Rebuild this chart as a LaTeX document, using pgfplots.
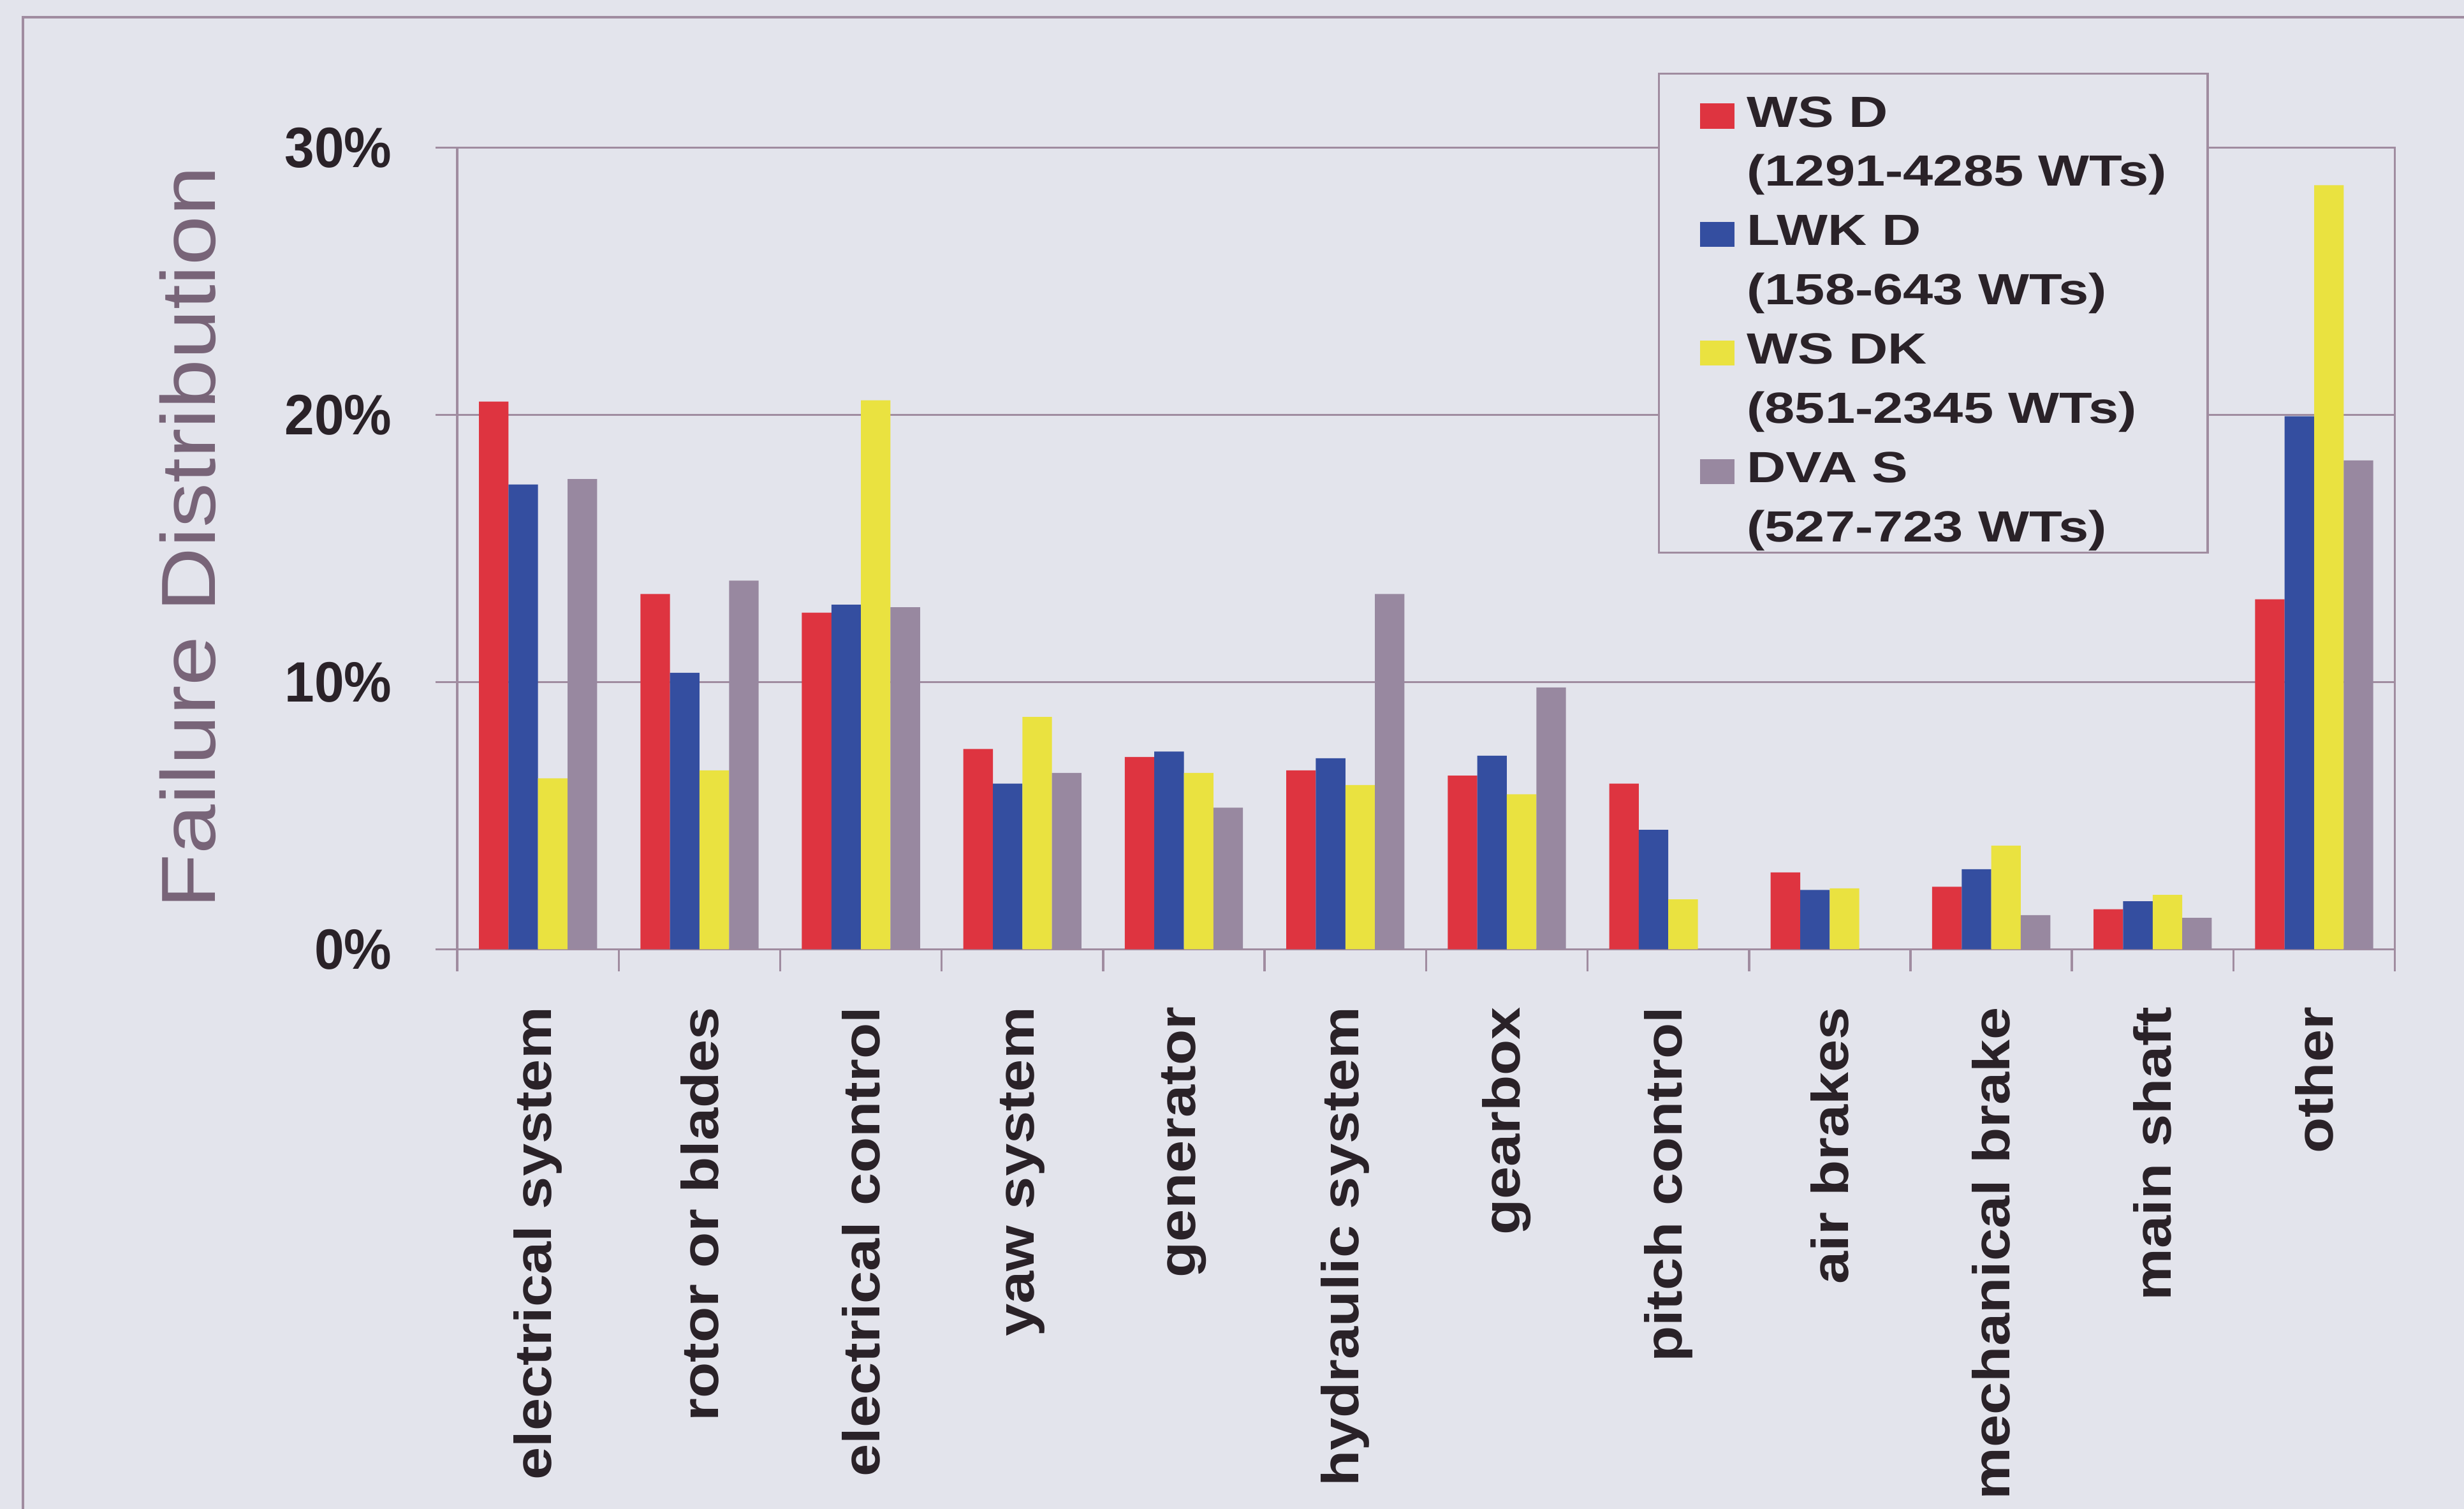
\documentclass[border=0pt]{standalone}
\usepackage{fontspec}
\setmainfont{Liberation Sans}
\newfontfamily\legfont{Liberation Sans}[FakeStretch=1.24]
\newfontfamily\xtfont{Liberation Sans}[FakeStretch=1.13]
\newfontfamily\ytfont{Liberation Sans}[FakeStretch=0.94]
\newfontfamily\ylabfont{Liberation Sans}[FakeStretch=1.16]
\usepackage{pgfplots}
\usepackage{pgfplotstable}
\pgfplotsset{compat=1.18}

\definecolor{wsd}{HTML}{DE3440}
\definecolor{lwkd}{HTML}{344EA0}
\definecolor{wsdk}{HTML}{EAE240}
\definecolor{dvas}{HTML}{9888A0}
\definecolor{paper}{HTML}{E3E4EC}
\definecolor{frame}{HTML}{A08CA0}
\definecolor{labelgrey}{HTML}{786478}
\definecolor{ink}{HTML}{2A2228}

% small filled square as legend key
\pgfplotsset{sq legend/.style={legend image code/.code={%
  \fill[##1] (0cm,-0.145cm) rectangle (0.22cm,0.015cm);}}}

% share of failures per subassembly, in percent
\pgfplotstableread{
x  wsd   lwkd  wsdk  dvas
0  20.5  17.4  6.4   17.6
1  13.3  10.35 6.7   13.8
2  12.6  12.9  20.55 12.8
3  7.5   6.2   8.7   6.6
4  7.2   7.4   6.6   5.3
5  6.7   7.15  6.15  13.3
6  6.5   7.25  5.8   9.8
7  6.2   4.47  1.87  0
8  2.88  2.22  2.28  0
9  2.34  3.0   3.88  1.28
10 1.5   1.8   2.04  1.18
11 13.1  19.95 28.6  18.3
}\failures

\begin{document}
\begin{tikzpicture}
\path[use as bounding box] (0,0) rectangle (15.68,9.60);
\clip (0,0) rectangle (15.68,9.60);
\fill[paper] (0,0) rectangle (15.68,9.60);
\draw[frame, line width=0.4pt] (0.146,-1) -- (0.146,9.49) -- (16.5,9.49);

\begin{axis}[
  at={(2.91cm,3.56cm)}, anchor=south west,
  scale only axis, width=12.33cm, height=5.10cm,
  xmin=-0.5, xmax=11.5, ymin=0, ymax=30,
  axis line style={frame, line width=0.4pt},
  ymajorgrids, grid style={frame, line width=0.35pt},
  tick pos=left, tick align=outside, major tick length=0.14cm,
  tick style={frame, line width=0.4pt},
  xtick={-0.5,0.5,...,11.5}, xticklabels={},
  extra x ticks={0,1,...,11},
  extra x tick style={major tick length=0pt, grid=none},
  extra x tick labels={electrical system, rotor or blades, electrical control,
    yaw system, generator, hydraulic system, gearbox, pitch control,
    air brakes, mechanical brake, main shaft, other},
  xticklabel style={rotate=90, anchor=east, inner sep=0pt, xshift=-0.36cm,
    text=ink, font=\xtfont\bfseries\fontsize{9.4}{11}\selectfont},
  ytick={0,10,20,30}, yticklabels={0\%,10\%,20\%,30\%},
  yticklabel style={anchor=east, inner sep=0pt, xshift=-0.27cm,
    text=ink, font=\ytfont\bfseries\fontsize{10.3}{12}\selectfont},
  ylabel={Failure Distribution},
  every axis y label/.style={at={(axis description cs:-0.1249,0.514)},
    rotate=90, anchor=base, text=labelgrey,
    font=\ylabfont\fontsize{13.9}{16}\selectfont},
  ybar, bar width=0.188cm,
  legend cell align=left,
  legend style={at={(0.6196,1.094)}, anchor=north west,
    draw=frame, line width=0.4pt, fill=paper, text=ink,
    font=\legfont\bfseries\fontsize{7.9}{9}\selectfont,
    inner xsep=0.26cm, inner ysep=0pt, row sep=-0.033cm, column sep=0.08cm,
    nodes={inner sep=0pt, text height=0.34cm, text depth=0.07cm},
    cells={anchor=west}},
]
\addplot[fill=wsd, draw=none, bar shift=-0.282cm, sq legend]
  table[x=x, y=wsd] {\failures};
\addlegendentry{WS D}
\addlegendimage{empty legend}
\addlegendentry{(1291-4285 WTs)}
\addplot[fill=lwkd, draw=none, bar shift=-0.094cm, sq legend]
  table[x=x, y=lwkd] {\failures};
\addlegendentry{LWK D}
\addlegendimage{empty legend}
\addlegendentry{(158-643 WTs)}
\addplot[fill=wsdk, draw=none, bar shift=0.094cm, sq legend]
  table[x=x, y=wsdk] {\failures};
\addlegendentry{WS DK}
\addlegendimage{empty legend}
\addlegendentry{(851-2345 WTs)}
\addplot[fill=dvas, draw=none, bar shift=0.282cm, sq legend]
  table[x=x, y=dvas] {\failures};
\addlegendentry{DVA S}
\addlegendimage{empty legend}
\addlegendentry{(527-723 WTs)}
\end{axis}
\end{tikzpicture}
\end{document}
